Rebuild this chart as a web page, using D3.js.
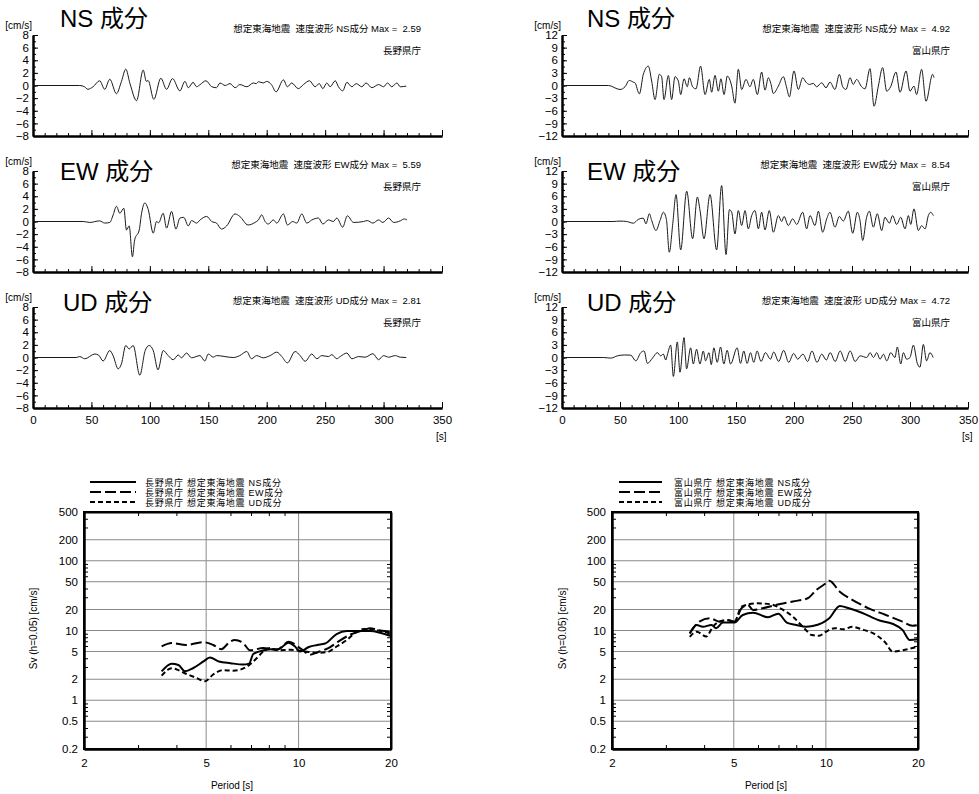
<!DOCTYPE html>
<html>
<head>
<meta charset="utf-8">
<script src="https://cdn.jsdelivr.net/npm/d3@7"></script>
<style>
  body { margin: 0; background: #fff; }
  svg { display: block; }
  text { font-family: "Liberation Sans", "Noto Sans CJK JP", sans-serif; fill: #000; white-space: pre; }
</style>
</head>
<body>
<svg id="chart" width="979" height="794"></svg>
<script>
// ---------- data ----------
const components = ["NS", "EW", "UD"];
const stations = ["長野県庁", "富山県庁"];
const naganoMax = [2.59, 5.59, 2.81];
const toyamaMax = [4.92, 8.54, 4.72];

const timeTicks = [0, 50, 100, 150, 200, 250, 300, 350];
const naganoVelTicks = [-8, -6, -4, -2, 0, 2, 4, 6, 8];
const toyamaVelTicks = [-12, -9, -6, -3, 0, 3, 6, 9, 12];
const periodTicks = [2, 5, 10, 20];
const svTicks = [0.2, 0.5, 1, 2, 5, 10, 20, 50, 100, 200, 500];

// velocity waveforms [time s, velocity cm/s]
const naganoNS = [[0,0],[40,0],[44,-0.2],[47,-0.6],[51.4,-0.2],[57,0.75],[61.4,-0.6],[65.7,1.0],[71.4,-1.3],[75.7,0.65],[79.4,2.59],[83,0.3],[88.6,-2.4],[94.3,2.45],[97,0.65],[98.5,0.8],[103.4,-2.2],[109.4,1.15],[114.3,-0.6],[119.4,1.1],[125.7,-0.85],[130,0.65],[132.9,-0.35],[137,0.5],[140,-0.2],[143,0.15],[148,0.75],[153,-0.2],[157,-0.35],[160,0.4],[164.5,0],[168.6,0.3],[173,-0.35],[177,0.15],[183,-0.2],[188.6,0.4],[191,0.3],[193,0.6],[197,0.4],[200,0.65],[204,0.15],[208,-1.0],[214.3,0.9],[217.7,-0.2],[221.4,0.4],[227,-0.5],[231.4,0.15],[236.6,0.75],[241.4,-0.2],[245,0.3],[248,-0.5],[251.4,0.4],[254.3,-0.2],[258.6,0.75],[261.4,-0.2],[265,-0.85],[268.6,0.5],[272.9,-0.2],[276.6,0.3],[281.4,-0.2],[285,0.4],[290,-0.35],[295.7,0.15],[300,-0.2],[303.4,0.4],[307,-0.2],[311.4,0.4],[314.3,-0.2],[319.4,-0.1]];
const naganoEW = [[0,0],[43,0],[48.6,-0.15],[57,0.1],[61.4,-0.25],[65.7,-0.15],[68.6,1.05],[71.4,2.4],[74.3,1.3],[77.7,2.1],[80,-1.35],[82.3,-0.7],[85.1,-5.59],[87,-2.9],[90.9,-1.35],[92.9,1.3],[95.7,2.95],[98.6,1.9],[102.9,-1.85],[105.7,0],[107.5,-0.2],[111.4,1.3],[114.3,-1.05],[118.6,1.6],[122.3,-1.2],[125.7,0.55],[129,0.65],[132.9,-0.7],[135.7,0.15],[140,-0.25],[143,0.25],[148.6,0.8],[152.9,0],[157,-0.25],[161.4,-1.2],[165.7,-0.7],[172.9,1.2],[177,0.8],[184,-0.55],[190,-0.15],[192.9,0.25],[195.7,1.05],[198.6,0],[201.4,-0.4],[205.7,0.25],[208.6,-0.25],[214.3,1.2],[217.7,-0.55],[222.3,0],[225.7,-0.25],[230,1.2],[234.3,-0.25],[238.6,0.25],[244.3,0.55],[248,-0.4],[252.9,0.25],[257,0],[260,0.55],[265,-0.9],[269,0.9],[274.3,-0.15],[282.9,0],[286,0.15],[290.9,-0.25],[295.7,0.25],[299.4,-0.15],[304.3,0.55],[308.6,-0.15],[314.3,0.1],[317.7,0.4],[320,0.25]];
const naganoUD = [[0,0],[37,0],[40,0.15],[44.3,-0.2],[52.9,0.55],[56,0.4],[60,-0.55],[65.7,1.1],[68.5,0.3],[72.9,-1.8],[75.7,-1.0],[79.4,1.9],[82.3,1.35],[85.7,1.9],[91.4,-2.81],[96,1.1],[99.4,1.9],[102.9,1.1],[107,-1.95],[111.4,1.1],[115.7,0.3],[120,-0.35],[124.3,0.4],[127,-0.05],[131.4,0.7],[135.7,-0.05],[142.9,0.3],[147,-0.55],[150,0.55],[154.3,0.05],[157.1,0.3],[171.4,0],[177,0.3],[182.9,0.95],[187,-0.2],[191.4,0.3],[197,-0.05],[202.9,0.3],[208.6,0.85],[212.9,0.15],[217.7,-0.85],[224.3,0.95],[228.6,0.3],[232.9,-0.6],[238.6,0.55],[242.9,-0.2],[247.1,0.3],[252.9,0.15],[255.7,0.45],[260,-0.2],[262.9,0.15],[268.6,0.7],[272.9,-0.2],[278.6,0.15],[284.3,0.05],[290.9,0.6],[295.7,-0.35],[300,0.3],[304.3,0.05],[310,0.3],[314.3,0.05],[319.4,0]];
const toyamaNS = [[0,0],[40,0],[50,-0.95],[54.3,-0.3],[58,1.2],[61.5,0.8],[62.9,0.65],[66.7,-2.0],[70.1,2.65],[74.4,4.6],[77.3,1.05],[80.2,-3.35],[83.9,2.65],[85.9,2.1],[87.9,-3.35],[91.7,2.4],[94.5,-3.35],[97.4,2.1],[100.3,1.05],[102.3,-2.15],[105.2,1.6],[108,-0.3],[109.8,1.85],[112.6,-0.3],[115.5,-0.8],[119.5,4.6],[123.3,-2.15],[127,1.45],[129,-1.6],[131.9,2.4],[134.8,-1.35],[137,1.6],[139.7,-2.15],[142.5,2.25],[146.3,-0.15],[149.1,-4.2],[152,3.85],[154.9,-0.95],[158.6,1.45],[162,-0.3],[164.9,1.45],[168.4,-2.15],[172.1,3.2],[175,-1.1],[177.9,1.85],[180,0.5],[182.2,-1.9],[186.5,-0.15],[190.8,2.1],[193.5,-0.3],[196,-2.7],[200,3.45],[203.7,-0.95],[207.5,1.85],[210.3,0.8],[213.2,0.25],[216.7,0.5],[219.5,-0.3],[223.9,0.65],[227.6,-0.55],[231,0.8],[235.3,-0.95],[239.1,2.65],[242,-0.3],[244.8,-0.95],[248.3,1.85],[251.1,0.25],[254,1.45],[258.3,-0.3],[261.2,-0.8],[265.5,4.0],[269,-4.92],[272.7,-0.15],[276.4,4.25],[279.9,-1.35],[283.3,-0.3],[287.9,3.2],[291.4,-1.6],[296.6,3.45],[300,-1.35],[303.4,-0.15],[305.7,-2.15],[310,3.85],[313.8,-3.75],[319.5,2.65],[320.7,1.85]];
const toyamaEW = [[0,0],[44,0],[50,0.1],[55.7,0.0],[61.5,-0.4],[65.8,0.5],[70.1,0.8],[72.4,-0.55],[75.3,1.85],[77.3,0.25],[81,-2.15],[84.5,0.25],[87.4,2.2],[90,0.5],[92.5,-7.3],[95.5,-0.5],[98.3,6.4],[102.3,-6.75],[107.5,7.2],[112.6,-4.1],[116.7,5.8],[119,2.6],[122.4,-4.1],[127.6,6.4],[133.3,-6.75],[137.6,8.54],[141.4,-7.85],[144.3,2.8],[146.3,2.2],[149.1,-2.95],[152,2.6],[154.9,-0.95],[157.8,2.6],[160.6,-1.75],[163.5,1.4],[166.4,2.6],[169.3,-1.75],[172.1,2.2],[175,-2.0],[178.7,2.6],[182.2,-2.55],[186.5,1.4],[189.4,0],[191.4,1.2],[195.1,-0.95],[198.9,0.65],[202.3,-0.7],[207.5,2.2],[210.9,-1.75],[213.8,1.4],[218.1,-0.95],[221,2.45],[224.7,-2.55],[228.2,0.65],[231,2.2],[235.3,-1.35],[239.1,1.2],[242.5,0.1],[246.8,2.45],[250.6,-2.8],[254.6,2.2],[256.9,0.25],[259.2,-4.5],[262.6,1.0],[265,2.45],[268.4,-1.35],[271.8,1.85],[275.6,-2.15],[278.4,1.0],[282.2,-0.4],[285,1.4],[288.5,-0.7],[292,1.0],[295.7,-1.75],[298.6,1.4],[300.6,-0.7],[303.4,3.0],[307.2,-2.15],[310,-1.0],[313,-1.75],[315.8,1.4],[317.8,2.2],[320.1,1.4]];
const toyamaUD = [[0,0],[36,0],[42,-0.15],[47.9,0.4],[53.6,0.6],[59.3,0.55],[63.6,-0.8],[67.9,1.15],[70.8,1.55],[73.6,-1.4],[78,-0.15],[82.2,1.15],[85,0.4],[87.4,0.8],[89.4,-0.6],[90.8,0.6],[93.7,2.95],[96,-4.5],[99.4,3.7],[101.7,-3.5],[105.2,4.72],[107.4,-2.7],[110.9,2.3],[113.2,-1.55],[116,1.95],[118.9,-1.55],[121.8,1.55],[123.8,-0.8],[126.7,1.15],[128.7,-1.7],[130.9,2.3],[133.8,-1.15],[136.7,2.5],[139.5,-1.55],[142.4,1.7],[145.3,-1.55],[151,2.3],[153.9,-1.4],[156.7,1.55],[159.6,-1.4],[162.5,1.15],[165.3,-1.15],[168.2,1.55],[171.6,-0.95],[175.4,1.15],[179.7,-0.4],[182.5,1.3],[186.8,-0.95],[191.1,1.7],[195.4,-1.15],[199.7,0.95],[203.2,-0.4],[207.7,0.8],[211.7,-0.95],[215.5,1.55],[219.8,-1.15],[224,0.8],[227.8,-0.6],[231.2,1.15],[235.5,-0.95],[239.8,1.55],[244.1,-0.95],[248.4,1.55],[252.7,-0.95],[257,0.4],[262.7,0],[265.6,1.15],[268.5,0],[271.3,1.15],[274.2,-0.4],[277.1,0.8],[280,-0.8],[283.4,1.15],[287,0],[289.1,2.5],[292,-1.55],[294.3,1.15],[297.1,-0.4],[300,0],[302.9,2.95],[306.3,-1.4],[308.6,-2.3],[311.5,3.1],[314.3,-0.8],[317.2,1.15],[320,0]];

// velocity response spectra Sv (h=0.05) [period s, cm/s]
const naganoSvNS = [[3.58,2.6],[3.86,3.35],[4.06,3.2],[4.27,2.6],[4.54,2.9],[4.9,3.6],[5.14,4.1],[5.5,3.6],[6.0,3.4],[6.6,3.25],[6.9,3.35],[7.12,4.6],[7.7,5.2],[8.2,5.4],[8.6,5.4],[9.26,6.7],[9.7,6.0],[10.1,5.0],[10.8,5.8],[11.5,6.2],[12.2,6.5],[13.3,8.9],[14.35,9.8],[15.85,9.8],[17.1,9.8],[18.4,9.3],[20,8.3]];
const naganoSvEW = [[3.58,5.9],[3.86,6.6],[4.3,6.2],[4.9,6.8],[5.27,6.2],[5.6,5.4],[5.98,6.9],[6.2,7.3],[6.6,6.6],[6.95,5.2],[7.67,5.6],[8.5,5.3],[9.3,6.9],[10.1,5.6],[10.9,4.5],[11.7,5.0],[12.5,5.6],[13.7,7.3],[14.9,8.9],[16.3,10.1],[17.1,10.8],[18.4,10.0],[20,9.6]];
const naganoSvUD = [[3.58,2.25],[3.86,2.88],[4.06,2.7],[4.3,2.4],[4.65,2.09],[4.96,1.87],[5.27,2.34],[5.67,2.7],[6.13,2.65],[6.76,3.0],[7.3,4.0],[7.67,5.0],[8.1,5.6],[8.5,5.2],[9.4,5.3],[10.5,5.0],[11.5,4.8],[12.4,4.9],[13.3,5.9],[14.35,7.3],[15.4,9.5],[16.3,10.5],[17.3,10.5],[18.4,9.9],[20,9.0]];
const toyamaSvNS = [[3.59,9.1],[3.78,12.0],[3.96,11.3],[4.23,12.0],[4.38,10.8],[4.61,13.0],[5.03,13.0],[5.35,16.7],[5.78,18.0],[6.47,15.5],[6.99,17.4],[7.45,13.0],[8.0,12.0],[8.62,11.3],[9.05,11.6],[9.7,12.8],[10.26,15.0],[11.1,22.5],[11.9,20.8],[13.1,18.0],[14.9,14.0],[16.5,12.5],[17.8,10.2],[18.8,7.3],[20,7.5]];
const toyamaSvEW = [[3.59,9.1],[3.86,13.4],[4.17,15.0],[4.49,13.4],[4.73,14.2],[5.03,13.4],[5.3,20.8],[5.57,23.0],[5.78,19.7],[6.2,20.8],[6.85,23.2],[7.8,26.1],[8.72,29.0],[9.3,38],[10.0,47.5],[10.26,51.7],[11.1,36],[12.2,27.5],[13.8,20.8],[15.7,16.7],[17.8,13.4],[19.2,11.7],[20,12.0]];
const toyamaSvUD = [[3.59,8.1],[3.78,9.6],[4.07,8.2],[4.27,11.3],[4.5,13.5],[4.8,14.0],[5.03,13.4],[5.3,22],[5.98,24.5],[6.6,23.8],[7.1,20.8],[7.8,15.8],[8.6,10.2],[9.0,8.6],[9.5,8.4],[10.0,9.6],[10.7,10.8],[11.4,10.4],[12.2,11.3],[13.1,10.4],[14.6,8.6],[15.7,6.6],[16.5,5.0],[17.8,5.2],[20,5.9]];

// ---------- layout ----------
const svg = d3.select("#chart");
const waveCols = [[33, 442], [562, 968]];
const rowTops = [35, 171, 307];
const rowH = 101;
const titleY = [27, 180, 311];
const titleX = [[60, 63], [587, 587]];
const infoRight = [421, 950];

const columns = [
  { station: stations[0], waves: [naganoNS, naganoEW, naganoUD], max: naganoMax, ticks: naganoVelTicks, lim: 8, minorStep: 1,
    spectra: [naganoSvNS, naganoSvEW, naganoSvUD], specX: [84, 391], yLabelX: 37, periodX: 232 },
  { station: stations[1], waves: [toyamaNS, toyamaEW, toyamaUD], max: toyamaMax, ticks: toyamaVelTicks, lim: 12, minorStep: 1.5,
    spectra: [toyamaSvNS, toyamaSvEW, toyamaSvUD], specX: [612, 918], yLabelX: 566, periodX: 766 }
];

const fmtTick = d3.format("");

function styleAxis(g, width) {
  g.select(".domain").attr("stroke", "#000").attr("stroke-width", width);
  g.selectAll(".tick line").attr("stroke", "#000");
  g.selectAll(".tick text").attr("fill", "#000").style("font-family", '"Liberation Sans", sans-serif');
}

// ---------- velocity waveforms ----------
columns.forEach((col, ci) => {
  const x = d3.scaleLinear().domain([0, 350]).range(waveCols[ci]);
  components.forEach((comp, ri) => {
    const top = rowTops[ri];
    const y = d3.scaleLinear().domain([-col.lim, col.lim]).range([top + rowH, top]);
    const g = svg.append("g");

    // minor ticks
    const minorY = d3.range(-col.lim, col.lim + 0.01, col.minorStep);
    g.append("g").attr("transform", `translate(${waveCols[ci][0]},0)`)
      .call(d3.axisLeft(y).tickValues(minorY).tickSize(-3).tickSizeOuter(0).tickFormat(""))
      .call(a => styleAxis(a, 2));
    g.append("g").attr("transform", `translate(${waveCols[ci][0]},0)`)
      .call(d3.axisLeft(y).tickValues(col.ticks).tickSize(-5).tickSizeOuter(0).tickPadding(4).tickFormat(fmtTick))
      .call(a => styleAxis(a, 2))
      .call(a => a.selectAll(".tick text").attr("font-size", 11.5));

    const minorX = d3.range(0, 351, 10);
    g.append("g").attr("transform", `translate(0,${top + rowH})`)
      .call(d3.axisBottom(x).tickValues(minorX).tickSize(-3).tickSizeOuter(0).tickFormat(""))
      .call(a => styleAxis(a, 2));
    const bx = g.append("g").attr("transform", `translate(0,${top + rowH})`)
      .call(d3.axisBottom(x).tickValues(timeTicks).tickSize(-6).tickSizeOuter(0).tickPadding(8))
      .call(a => styleAxis(a, 2))
      .call(a => a.selectAll(".tick text").attr("font-size", 11.5));
    if (ri < 2) bx.selectAll(".tick text").remove();
    else {
      g.append("text").attr("x", waveCols[ci][1] - 6).attr("y", top + rowH + 32)
        .attr("font-size", 10).text("[s]");
    }

    // unit label
    g.append("text").attr("x", waveCols[ci][0] - 1).attr("y", top - 6)
      .attr("text-anchor", "end").attr("font-size", 10).text("[cm/s]");

    // component title
    g.append("text").attr("x", titleX[ci][ri === 2 ? 1 : 0]).attr("y", titleY[ri])
      .attr("font-size", 24).text(`${comp} 成分`);

    // info text
    g.append("text").attr("x", infoRight[ci]).attr("y", top - 3)
      .attr("text-anchor", "end").attr("font-size", 9.5)
      .text(`想定東海地震  速度波形 ${comp}成分 Max =  ${col.max[ri].toFixed(2)}`);
    g.append("text").attr("x", infoRight[ci]).attr("y", top + 19)
      .attr("text-anchor", "end").attr("font-size", 9.5).text(col.station);

    // trace
    const line = d3.line().x(d => x(d[0])).y(d => y(d[1])).curve(d3.curveMonotoneX);
    g.append("path").datum(col.waves[ri])
      .attr("fill", "none").attr("stroke", "#1a1a1a").attr("stroke-width", 1)
      .attr("stroke-linejoin", "round").attr("d", line);
  });
});

// ---------- response spectra ----------
const specTop = 512, specBottom = 749;
const dashes = [null, "11,4", "5,3"];
const legendRows = [482, 492, 502];

columns.forEach((col, ci) => {
  const [x0, x1] = col.specX;
  const x = d3.scaleLog().domain([2, 20]).range([x0, x1]);
  const y = d3.scaleLog().domain([0.2, 500]).range([specBottom, specTop]);
  const g = svg.append("g");

  // grid
  g.selectAll(".hgrid").data(svTicks).join("line")
    .attr("x1", x0).attr("x2", x1).attr("y1", d => y(d)).attr("y2", d => y(d))
    .attr("stroke", "#8a8a8a").attr("stroke-width", 1);
  g.selectAll(".vgrid").data(periodTicks.slice(1, -1)).join("line")
    .attr("x1", d => x(d)).attr("x2", d => x(d)).attr("y1", specTop).attr("y2", specBottom)
    .attr("stroke", "#8a8a8a").attr("stroke-width", 1);

  // minor ticks on all four sides
  const minorX = [3, 4, 6, 7, 8, 9];
  const minorY = [0.3, 0.4, 0.6, 0.7, 0.8, 0.9, 3, 4, 6, 7, 8, 9, 30, 40, 60, 70, 80, 90, 300, 400];
  g.append("g").attr("transform", `translate(0,${specBottom})`)
    .call(d3.axisBottom(x).tickValues(minorX).tickSize(-4).tickSizeOuter(0).tickFormat(""))
    .call(a => styleAxis(a, 2));
  g.append("g").attr("transform", `translate(0,${specTop})`)
    .call(d3.axisTop(x).tickValues(minorX).tickSize(-4).tickSizeOuter(0).tickFormat(""))
    .call(a => styleAxis(a, 2));
  g.append("g").attr("transform", `translate(${x0},0)`)
    .call(d3.axisLeft(y).tickValues(minorY).tickSize(-4).tickSizeOuter(0).tickFormat(""))
    .call(a => styleAxis(a, 2));
  g.append("g").attr("transform", `translate(${x1},0)`)
    .call(d3.axisRight(y).tickValues(minorY).tickSize(-4).tickSizeOuter(0).tickFormat(""))
    .call(a => styleAxis(a, 2));

  // labelled axes
  g.append("g").attr("transform", `translate(0,${specBottom})`)
    .call(d3.axisBottom(x).tickValues(periodTicks).tickSize(0).tickPadding(10).tickFormat(d3.format("")))
    .call(a => styleAxis(a, 2))
    .call(a => a.selectAll(".tick text").attr("font-size", 11.5));
  g.append("g").attr("transform", `translate(${x0},0)`)
    .call(d3.axisLeft(y).tickValues(svTicks).tickSize(0).tickPadding(6).tickFormat(d3.format("")))
    .call(a => styleAxis(a, 2))
    .call(a => a.selectAll(".tick text").attr("font-size", 11.5));

  // frame
  g.append("rect").attr("x", x0).attr("y", specTop).attr("width", x1 - x0).attr("height", specBottom - specTop)
    .attr("fill", "none").attr("stroke", "#000").attr("stroke-width", 2);

  // axis titles
  g.append("text").attr("transform", `translate(${col.yLabelX},${(specTop + specBottom) / 2 - 2}) rotate(-90)`)
    .attr("text-anchor", "middle").attr("font-size", 10).text("Sv (h=0.05) [cm/s]");
  g.append("text").attr("x", col.periodX).attr("y", 789)
    .attr("text-anchor", "middle").attr("font-size", 10).text("Period [s]");

  // spectrum curves
  const line = d3.line().x(d => x(d[0])).y(d => y(d[1])).curve(d3.curveMonotoneX);
  col.spectra.forEach((s, si) => {
    g.append("path").datum(s)
      .attr("fill", "none").attr("stroke", "#000").attr("stroke-width", 2)
      .attr("stroke-dasharray", dashes[si]).attr("d", line);
  });

  // legend
  const lx = ci === 0 ? [90, 136, 145] : [619, 662, 674];
  components.forEach((comp, si) => {
    g.append("line").attr("x1", lx[0]).attr("x2", lx[1])
      .attr("y1", legendRows[si]).attr("y2", legendRows[si])
      .attr("stroke", "#000").attr("stroke-width", 2).attr("stroke-dasharray", dashes[si]);
    g.append("text").attr("x", lx[2]).attr("y", legendRows[si] + 3.5)
      .attr("font-size", 9).attr("letter-spacing", 0.7)
      .text(`${col.station} 想定東海地震 ${comp}成分`);
  });
});
</script>
</body>
</html>
